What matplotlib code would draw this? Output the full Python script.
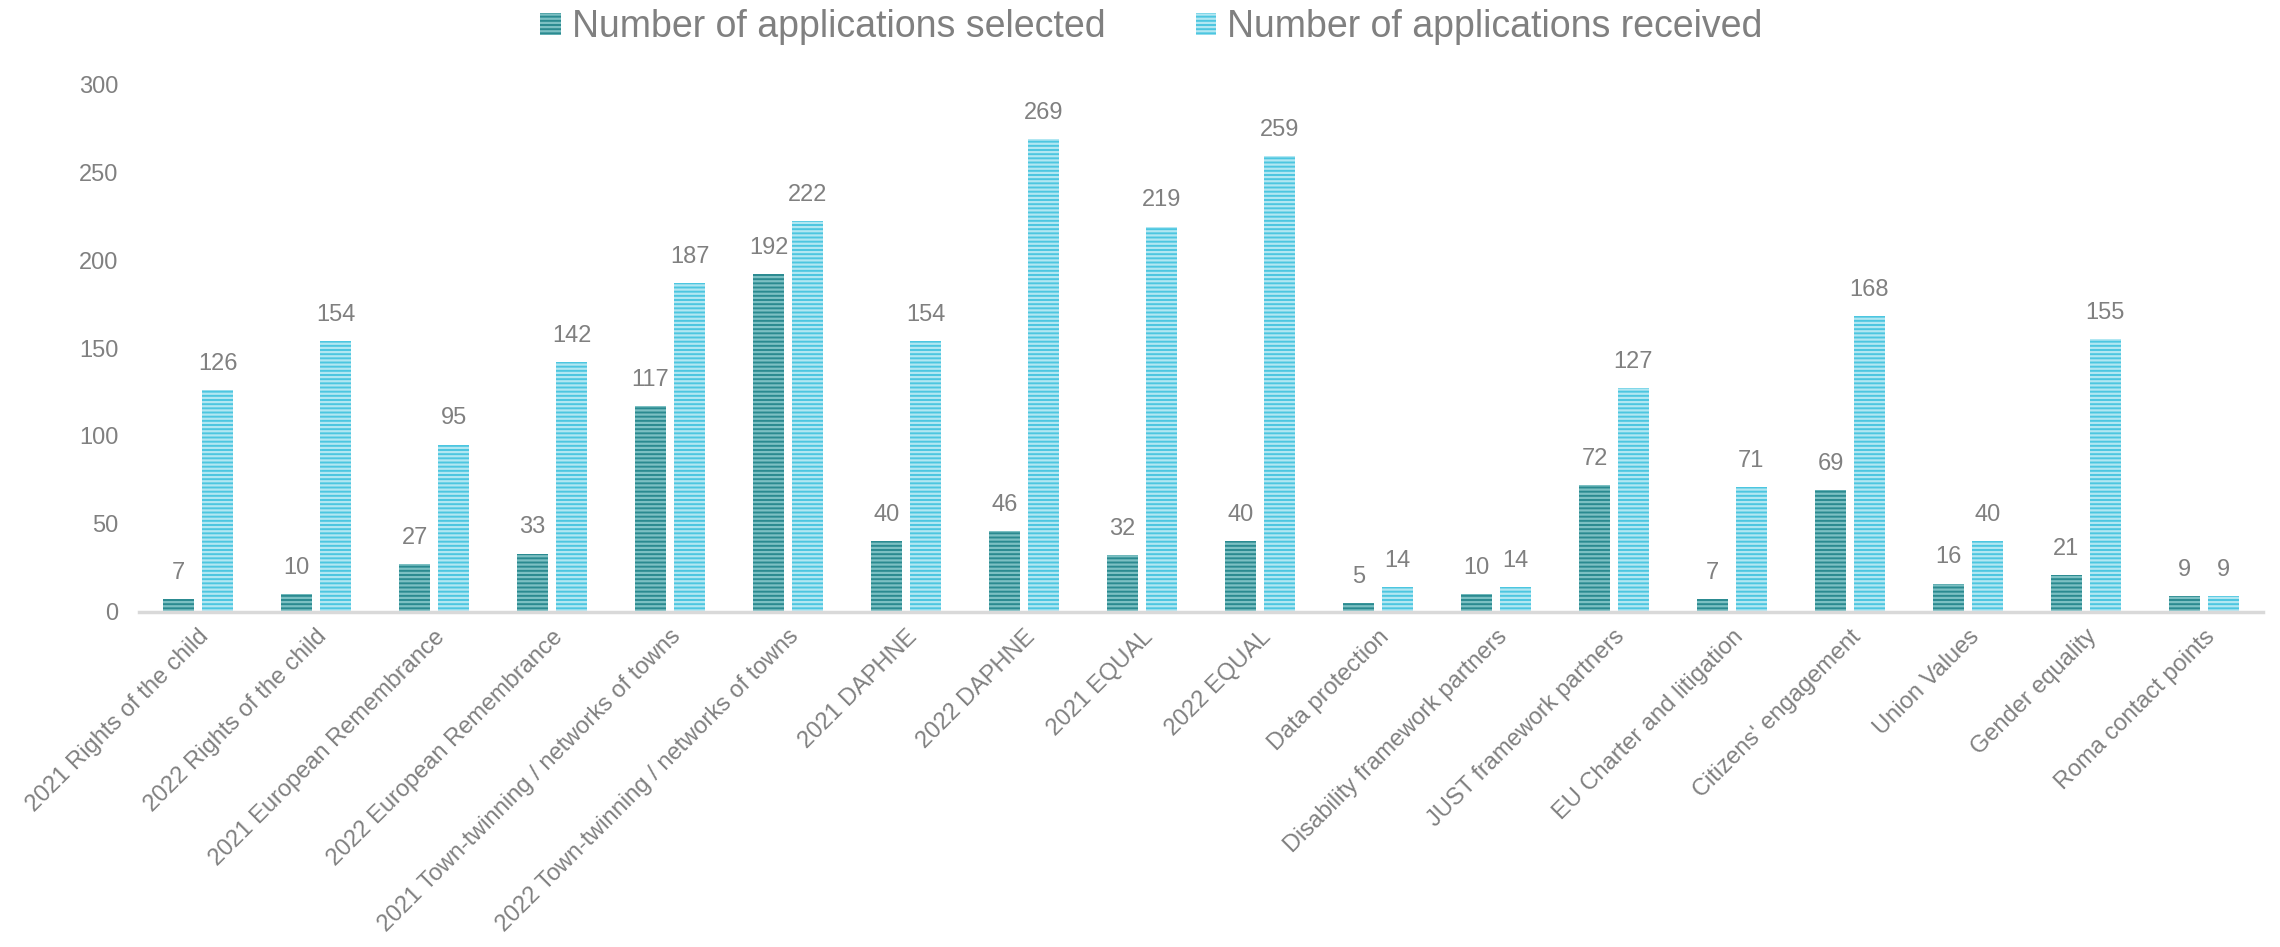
import matplotlib
matplotlib.use("Agg")
import matplotlib.pyplot as plt
import numpy as np

# data
categories = [
    "2021 Rights of the child", "2022 Rights of the child",
    "2021 European Remembrance", "2022 European Remembrance",
    "2021 Town-twinning / networks of towns", "2022 Town-twinning / networks of towns",
    "2021 DAPHNE", "2022 DAPHNE", "2021 EQUAL", "2022 EQUAL",
    "Data protection", "Disability framework partners", "JUST framework partners",
    "EU Charter and litigation", "Citizens' engagement", "Union Values",
    "Gender equality", "Roma contact points",
]
selected = [7, 10, 27, 33, 117, 192, 40, 46, 32, 40, 5, 10, 72, 7, 69, 16, 21, 9]
received = [126, 154, 95, 142, 187, 222, 154, 269, 219, 259, 14, 14, 127, 71, 168, 40, 155, 9]
series_names = ["Number of applications selected", "Number of applications received"]
yticks = [0, 50, 100, 150, 200, 250, 300]

grey = "#808080"
plt.rcParams["font.family"] = ["Liberation Sans", "DejaVu Sans"]
plt.rcParams["hatch.linewidth"] = 1.6

fig = plt.figure(figsize=(22.8, 9.47), dpi=100)
ax = fig.add_axes([0.061, 0.354, 0.9315, 0.557])

x = np.arange(len(categories))
w = 0.265
off = 0.165

b1 = ax.bar(x - off, selected, w, color="#2A8A90", edgecolor="#7CC0C3",
            linewidth=0, hatch="----", label=series_names[0])
b2 = ax.bar(x + off, received, w, color="#4CC6E0", edgecolor="#B2E7F2",
            linewidth=0, hatch="----", label=series_names[1])

# value labels above each bar
for bars, vals in ((b1, selected), (b2, received)):
    for rect, v in zip(bars, vals):
        ax.annotate(str(v), (rect.get_x() + rect.get_width() / 2, v),
                    xytext=(0, 11), textcoords="offset points",
                    ha="center", va="bottom", fontsize=17, color=grey)

ax.set_xlim(-0.5, len(categories) - 0.5)
ax.set_ylim(0, 300)
ax.set_yticks(yticks)
ax.tick_params(axis="y", length=0, labelsize=17, labelcolor=grey, pad=15)
ax.set_xticks(x)
ax.set_xticklabels(categories, rotation=45, ha="right", rotation_mode="anchor",
                   fontsize=17, color=grey)
ax.tick_params(axis="x", length=0, pad=10)

for s in ("top", "right", "left"):
    ax.spines[s].set_visible(False)
ax.spines["bottom"].set_color("#D9D9D9")
ax.spines["bottom"].set_linewidth(2.5)

fig.legend(loc="upper center", bbox_to_anchor=(0.505, 1.026), ncol=2, frameon=False,
           fontsize=27, labelcolor=grey, handlelength=0.55, handleheight=0.55,
           handletextpad=0.3, columnspacing=2.4)

fig.savefig("out.png", dpi=100)
